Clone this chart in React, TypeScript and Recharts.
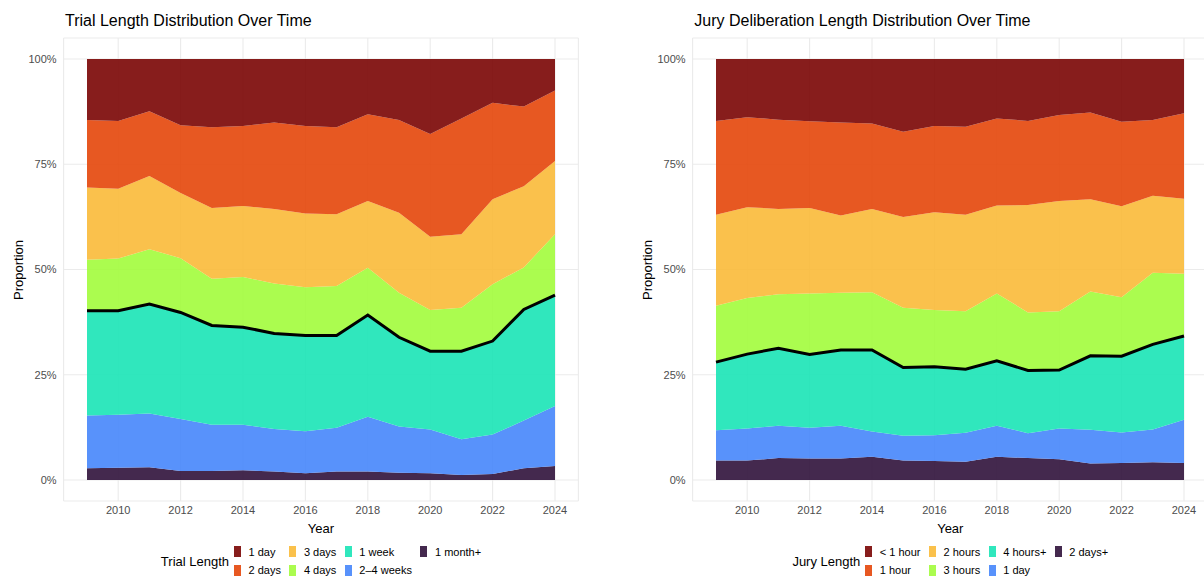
import React from "react";
import { ComposedChart, Area, Line, XAxis, YAxis, CartesianGrid } from "recharts";

const FONT = "'Liberation Sans', Arial, Helvetica, sans-serif";

const YEARS = [2009, 2010, 2011, 2012, 2013, 2014, 2015, 2016, 2017, 2018, 2019, 2020, 2021, 2022, 2023, 2024];
const X_TICKS = [2010, 2012, 2014, 2016, 2018, 2020, 2022, 2024];
const Y_TICKS = [0, 25, 50, 75, 100];

// trial length shares (%), bottom of the stack first
const TRIAL_MONTH = [2.8, 2.9, 3.0, 2.1, 2.1, 2.3, 2.0, 1.6, 2.0, 2.0, 1.7, 1.6, 1.2, 1.4, 2.8, 3.3];
const TRIAL_2_4_WEEKS = [12.5, 12.6, 12.8, 12.4, 11.0, 10.8, 10.1, 10.0, 10.4, 13.0, 11.0, 10.4, 8.5, 9.4, 11.3, 14.3];
const TRIAL_1_WEEK = [24.9, 24.7, 26.0, 25.3, 23.6, 23.2, 22.7, 22.7, 21.9, 24.2, 21.2, 18.6, 20.9, 22.2, 26.4, 26.3];
const TRIAL_4_DAYS = [12.1, 12.4, 13.0, 12.9, 11.1, 11.9, 11.9, 11.5, 11.8, 11.2, 10.6, 9.8, 10.3, 13.5, 10.0, 14.5];
const TRIAL_3_DAYS = [17.2, 16.6, 17.4, 15.5, 16.8, 16.9, 17.7, 17.5, 17.0, 15.9, 19.0, 17.4, 17.5, 20.2, 19.3, 17.4];
const TRIAL_2_DAYS = [16.0, 16.1, 15.4, 16.1, 19.2, 19.0, 20.5, 20.8, 20.7, 20.6, 22.0, 24.4, 27.5, 22.9, 18.9, 16.7];
const TRIAL_1_DAY = [14.5, 14.7, 12.4, 15.7, 16.2, 15.9, 15.1, 15.9, 16.2, 13.1, 14.5, 17.8, 14.1, 10.4, 11.3, 7.5];

// jury deliberation shares (%), bottom of the stack first
const JURY_2_DAYS = [4.6, 4.6, 5.2, 5.1, 5.1, 5.5, 4.6, 4.5, 4.3, 5.5, 5.2, 4.9, 3.9, 4.0, 4.2, 4.0];
const JURY_1_DAY = [7.2, 7.6, 7.7, 7.3, 7.8, 6.0, 5.9, 6.1, 6.9, 7.4, 5.9, 7.3, 8.0, 7.3, 7.8, 10.3];
const JURY_4_HOURS = [16.2, 17.7, 18.4, 17.4, 18.0, 19.4, 16.2, 16.3, 15.1, 15.4, 14.9, 13.9, 17.6, 18.1, 20.2, 19.9];
const JURY_3_HOURS = [13.4, 13.3, 12.8, 14.5, 13.6, 13.7, 14.2, 13.5, 13.8, 16.0, 13.8, 14.0, 15.3, 14.0, 17.0, 14.8];
const JURY_2_HOURS = [21.6, 21.6, 20.3, 20.3, 18.3, 19.8, 21.6, 23.2, 22.9, 20.9, 25.5, 26.2, 21.9, 21.6, 18.3, 17.8];
const JURY_1_HOUR = [22.3, 21.4, 21.2, 20.6, 22.1, 20.3, 20.2, 20.5, 20.9, 20.7, 20.0, 20.4, 20.6, 20.1, 18.0, 20.3];
const JURY_LT_1_HOUR = [14.7, 13.8, 14.4, 14.8, 15.1, 15.3, 17.3, 15.9, 16.1, 14.1, 14.7, 13.3, 12.7, 14.9, 14.5, 12.9];

// turbo-ish palette, bottom to top
const COLORS = ["#30123B", "#4686FB", "#1AE4B6", "#A2FC3C", "#FABA39", "#E4460A", "#7A0403"];

type Series = { key: string; label: string; values: number[] };

const TRIAL_SERIES: Series[] = [
  { key: "s0", label: "1 month+", values: TRIAL_MONTH },
  { key: "s1", label: "2–4 weeks", values: TRIAL_2_4_WEEKS },
  { key: "s2", label: "1 week", values: TRIAL_1_WEEK },
  { key: "s3", label: "4 days", values: TRIAL_4_DAYS },
  { key: "s4", label: "3 days", values: TRIAL_3_DAYS },
  { key: "s5", label: "2 days", values: TRIAL_2_DAYS },
  { key: "s6", label: "1 day", values: TRIAL_1_DAY },
];

const JURY_SERIES: Series[] = [
  { key: "s0", label: "2 days+", values: JURY_2_DAYS },
  { key: "s1", label: "1 day", values: JURY_1_DAY },
  { key: "s2", label: "4 hours+", values: JURY_4_HOURS },
  { key: "s3", label: "3 hours", values: JURY_3_HOURS },
  { key: "s4", label: "2 hours", values: JURY_2_HOURS },
  { key: "s5", label: "1 hour", values: JURY_1_HOUR },
  { key: "s6", label: "< 1 hour", values: JURY_LT_1_HOUR },
];

function buildRows(series: Series[]) {
  return YEARS.map((year, i) => {
    const row: any = { year };
    series.forEach((s) => (row[s.key] = s.values[i]));
    // top edge of the bottom three groups, drawn as the black line
    row.edge = series[0].values[i] + series[1].values[i] + series[2].values[i];
    return row;
  });
}

const CHART_W = 600;
const CHART_H = 576;
const PLOT_LEFT = 63.6;
const PLOT_RIGHT = 578.4;
const PLOT_TOP = 38;
const PLOT_BOTTOM = 501;

function Panel({ left, title, series, legendTitle }: { left: number; title: string; series: Series[]; legendTitle: string }) {
  const rows = buildRows(series);
  // legend in ggplot order: top of stack first, filled column by column
  const legendItems = series.map((s, i) => ({ label: s.label, color: COLORS[i] })).reverse();
  const cols: { label: string; color: string }[][] = [];
  for (let i = 0; i < legendItems.length; i += 2) cols.push(legendItems.slice(i, i + 2));

  return (
    <div style={{ position: "absolute", left, top: 0, width: CHART_W, height: CHART_H }}>
      <div style={{ position: "absolute", left: 65, top: 12, fontSize: 16, color: "#000", whiteSpace: "nowrap" }}>{title}</div>
      <ComposedChart
        width={CHART_W}
        height={CHART_H}
        data={rows}
        margin={{ top: PLOT_TOP, right: CHART_W - PLOT_RIGHT, bottom: CHART_H - PLOT_BOTTOM - 20, left: 0 }}
      >
        <CartesianGrid stroke="#EBEBEB" strokeWidth={1.1} />
        <XAxis
          dataKey="year"
          type="number"
          domain={[2008.25, 2024.75]}
          ticks={X_TICKS}
          height={20}
          axisLine={false}
          tickLine={false}
          tickSize={3}
          tickMargin={2}
          tick={{ fill: "#4D4D4D", fontSize: 11, fontFamily: FONT }}
        />
        <YAxis
          type="number"
          domain={[-5, 105]}
          ticks={Y_TICKS}
          width={PLOT_LEFT}
          axisLine={false}
          tickLine={false}
          tickSize={5}
          tickMargin={2}
          tickFormatter={(v) => `${v}%`}
          tick={{ fill: "#4D4D4D", fontSize: 11, fontFamily: FONT }}
        />
        {series.map((s, i) => (
          <Area
            key={s.key}
            dataKey={s.key}
            stackId="1"
            type="linear"
            fill={COLORS[i]}
            fillOpacity={0.9}
            stroke="none"
            dot={false}
            activeDot={false}
            isAnimationActive={false}
          />
        ))}
        <Line dataKey="edge" type="linear" stroke="#000" strokeWidth={3} dot={false} activeDot={false} isAnimationActive={false} />
      </ComposedChart>
      <div
        style={{
          position: "absolute",
          left: 18,
          top: (PLOT_TOP + PLOT_BOTTOM) / 2,
          transform: "translate(-50%, -50%) rotate(-90deg)",
          fontSize: 13,
          whiteSpace: "nowrap",
        }}
      >
        Proportion
      </div>
      <div
        style={{
          position: "absolute",
          left: (PLOT_LEFT + PLOT_RIGHT) / 2,
          top: 528,
          transform: "translate(-50%, -50%)",
          fontSize: 13,
        }}
      >
        Year
      </div>
      <div
        style={{
          position: "absolute",
          left: PLOT_LEFT,
          width: PLOT_RIGHT - PLOT_LEFT,
          top: 545,
          height: 32,
          display: "flex",
          justifyContent: "center",
          alignItems: "center",
        }}
      >
        <span style={{ fontSize: 13, marginRight: 5, whiteSpace: "nowrap" }}>{legendTitle}</span>
        {cols.map((col, ci) => (
          <div key={ci} style={{ display: "flex", flexDirection: "column", gap: 7.5, marginRight: ci < cols.length - 1 ? 8.5 : 0, alignSelf: "flex-start", paddingTop: 1 }}>
            {col.map((it) => (
              <div key={it.label} style={{ display: "flex", alignItems: "center", height: 11, whiteSpace: "nowrap" }}>
                <span style={{ width: 7, height: 11, background: it.color, opacity: 0.9, marginRight: 7.5, display: "inline-block" }} />
                <span style={{ fontSize: 11 }}>{it.label}</span>
              </div>
            ))}
          </div>
        ))}
      </div>
    </div>
  );
}

export default function App() {
  return (
    <div
      style={{
        position: "absolute",
        left: 0,
        top: 0,
        width: 1204,
        height: 576,
        overflow: "hidden",
        background: "#fff",
        fontFamily: FONT,
        color: "#000",
      }}
    >
      <Panel left={0} title="Trial Length Distribution Over Time" series={TRIAL_SERIES} legendTitle="Trial Length" />
      <Panel left={629.3} title="Jury Deliberation Length Distribution Over Time" series={JURY_SERIES} legendTitle="Jury Length" />
    </div>
  );
}
